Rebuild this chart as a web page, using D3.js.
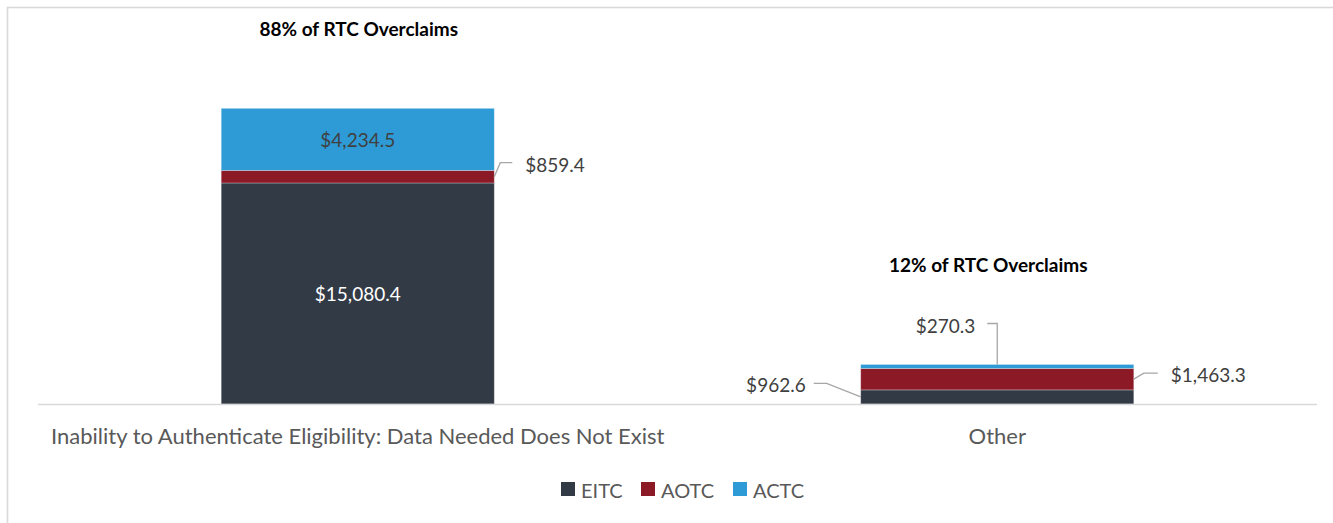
<!DOCTYPE html>
<html>
<head>
<meta charset="utf-8">
<script src="https://cdn.jsdelivr.net/npm/d3@7"></script>
<style>
  html, body { margin: 0; padding: 0; background: #fff; }
  svg { display: block; font-family: Lato, "Open Sans", sans-serif; }
</style>
</head>
<body>
<svg id="chart" width="1333" height="523"></svg>
<script>
// Refundable tax credit overclaims by cause ($ millions)
const categories = ["Inability to Authenticate Eligibility: Data Needed Does Not Exist", "Other"];
const seriesNames = ["EITC", "AOTC", "ACTC"];
const eitc = [15080.4, 962.6];
const aotc = [859.4, 1463.3];
const actc = [4234.5, 270.3];
const shareLabels = ["88% of RTC Overclaims", "12% of RTC Overclaims"];
const colors = ["#323a46", "#8b1a26", "#2e9bd6"];

const W = 1333, H = 523;
const svg = d3.select("#chart");

// frame
svg.append("rect")
  .attr("x", 7.5).attr("y", 7.5)
  .attr("width", W + 20).attr("height", H + 20)
  .attr("fill", "none").attr("stroke", "#d9d9d9").attr("stroke-width", 1.6);

const x = d3.scaleBand().domain(categories).range([38, 1317]).padding(0);
const barW = x.bandwidth() * 0.427;
const y = d3.scaleLinear().domain([0, 25000]).range([404, 37.6]);

const rows = categories.map((c, i) => ({ cat: c, EITC: eitc[i], AOTC: aotc[i], ACTC: actc[i] }));
const stacked = d3.stack().keys(seriesNames)(rows);

const cx = c => x(c) + x.bandwidth() / 2;
const fmt = v => "$" + d3.format(",.1f")(v);

// bars
const layers = svg.append("g").selectAll("g").data(stacked).join("g")
  .attr("fill", (d, i) => colors[i]);
layers.selectAll("rect").data(d => d).join("rect")
  .attr("x", d => cx(d.data.cat) - barW / 2)
  .attr("width", barW)
  .attr("y", d => y(d[1]))
  .attr("height", d => y(d[0]) - y(d[1]))
  .attr("stroke", "#ffffff").attr("stroke-opacity", 0.35).attr("stroke-width", 0.8);

// category axis line
svg.append("line")
  .attr("x1", 38).attr("x2", 1317)
  .attr("y1", y(0) + 0.5).attr("y2", y(0) + 0.5)
  .attr("stroke", "#d9d9d9").attr("stroke-width", 1.6);

// category labels
svg.append("g").selectAll("text").data(categories).join("text")
  .attr("x", d => cx(d)).attr("y", 435.5)
  .attr("text-anchor", "middle").attr("dominant-baseline", "central")
  .attr("fill", "#595959").attr("font-size", 22)
  .text(d => d);

// share annotations above each bar
const shareY = [28, 264];
const shareDx = [1, -9];
svg.append("g").selectAll("text").data(shareLabels).join("text")
  .attr("x", (d, i) => cx(categories[i]) + shareDx[i]).attr("y", (d, i) => shareY[i])
  .attr("text-anchor", "middle").attr("dominant-baseline", "central")
  .attr("fill", "#000").attr("font-weight", "bold").attr("font-size", 19)
  .text(d => d);

// value labels
const seg = (s, i) => stacked[s][i];
const segMid = (s, i) => (y(seg(s, i)[0]) + y(seg(s, i)[1])) / 2;
const labelG = svg.append("g").attr("font-size", 19);
const leaderG = svg.append("g").attr("fill", "none").attr("stroke", "#a6a6a6").attr("stroke-width", 1.3);

// inside labels
[[0, 0, "#ffffff"], [2, 0, "#404040"]].forEach(([s, i, col]) => {
  labelG.append("text")
    .attr("x", cx(categories[i])).attr("y", segMid(s, i))
    .attr("text-anchor", "middle").attr("dominant-baseline", "central")
    .attr("fill", col)
    .text(fmt(seg(s, i)[1] - seg(s, i)[0]));
});

// outside labels with elbow leader lines
function sideLabel(s, i, side, dy, diag, horiz, gap) {
  const v = seg(s, i)[1] - seg(s, i)[0];
  const edge = cx(categories[i]) + side * barW / 2;
  const my = segMid(s, i);
  const ly = my + dy;
  const bend = edge + side * diag;
  const end = bend + side * horiz;
  leaderG.append("path").attr("d", `M${edge},${my}L${bend},${ly}L${end},${ly}`);
  labelG.append("text")
    .attr("x", end + side * gap).attr("y", ly + 1.5)
    .attr("text-anchor", side > 0 ? "start" : "end").attr("dominant-baseline", "central")
    .attr("fill", "#404040")
    .text(fmt(v));
}
sideLabel(1, 0, 1, -14, 6, 12, 13);
sideLabel(1, 1, 1, -6, 10, 14, 13);
sideLabel(0, 1, -1, -13.5, 34, 13, 8);

// top label for the thin ACTC slice
(() => {
  const s = 2, i = 1;
  const v = seg(s, i)[1] - seg(s, i)[0];
  const top = y(seg(s, i)[1]);
  const lx = cx(categories[i]);
  const ly = top - 41;
  leaderG.append("path").attr("d", `M${lx},${top}L${lx},${ly}L${lx - 10},${ly}`);
  labelG.append("text")
    .attr("x", lx - 22).attr("y", ly + 2)
    .attr("text-anchor", "end").attr("dominant-baseline", "central")
    .attr("fill", "#404040")
    .text(fmt(v));
})();

// legend
const legend = svg.append("g").attr("font-size", 20).attr("fill", "#595959");
const legendX = [561, 641, 733];
seriesNames.forEach((n, i) => {
  legend.append("rect").attr("x", legendX[i]).attr("y", 482).attr("width", 14).attr("height", 14).attr("fill", colors[i]);
  legend.append("text").attr("x", legendX[i] + 20).attr("y", 489.5)
    .attr("dominant-baseline", "central").text(n);
});
</script>
</body>
</html>
